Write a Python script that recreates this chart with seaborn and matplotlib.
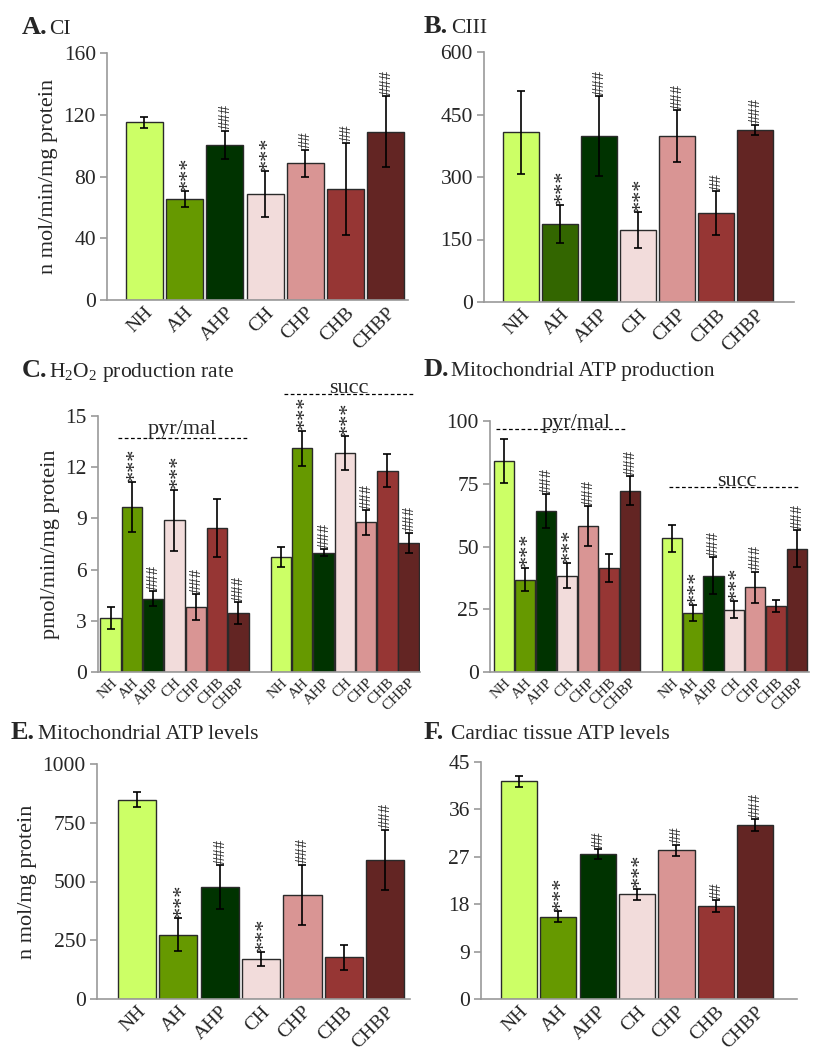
import pandas as pd
import matplotlib.pyplot as plt
import seaborn as sns

# Grupos y colores
groups = ["NH", "AH", "AHP", "CH", "CHP", "CHB", "CHBP"]
colors = ["#CCFF66", "#669900", "#003300", "#F2DCDB", "#D99594", "#963634", "#632523"]
colors_b = ["#CCFF66", "#336600", "#003300", "#F2DCDB", "#D99594", "#963634", "#632523"]

# A. CI
ci_vals = [115, 65.5, 100.4, 68.5, 88.5, 71.8, 109]
ci_err = [3.5, 5, 9.3, 15, 8.8, 30, 23]
ci_marks = ["", "***", "###", "***", "##", "##", "###"]

# B. CIII
ciii_vals = [407, 188, 398, 172, 398, 214, 414]
ciii_err = [100, 46, 96, 43, 63, 52, 12]
ciii_marks = ["", "***", "###", "***", "###", "##", "###"]

# C. H2O2 production rate (pyr/mal, succ)
h2o2_pyr = [3.17, 9.66, 4.3, 8.88, 3.8, 8.43, 3.45]
h2o2_pyr_err = [0.65, 1.45, 0.45, 1.8, 0.75, 1.7, 0.65]
h2o2_succ = [6.75, 13.1, 6.98, 12.81, 8.76, 11.79, 7.57]
h2o2_succ_err = [0.57, 1.04, 0.2, 1.0, 0.72, 0.96, 0.6]
h2o2_marks = ["", "***", "###", "***", "###", "", "###"]

# D. Mitochondrial ATP production (pyr/mal, succ)
atp_pyr = [84.2, 36.8, 64.2, 38.4, 58.1, 41.4, 72.2]
atp_pyr_err = [8.8, 4.7, 6.7, 5.0, 8.0, 5.7, 5.7]
atp_succ = [53.2, 23.5, 38.3, 24.9, 33.8, 26.3, 49.2]
atp_succ_err = [5.3, 3.0, 7.4, 3.3, 6.2, 2.5, 7.3]
atp_marks = ["", "***", "###", "***", "###", "", "###"]

# E. Mitochondrial ATP levels
mito_vals = [848, 274, 476, 170, 443, 178, 592]
mito_err = [31, 70, 94, 28, 128, 53, 128]
mito_marks = ["", "***", "###", "***", "###", "", "###"]

# F. Cardiac tissue ATP levels
card_vals = [41.3, 15.66, 27.5, 19.9, 28.2, 17.7, 33.0]
card_err = [1.0, 1.05, 1.0, 1.05, 1.1, 1.1, 1.1]
card_marks = ["", "***", "##", "***", "##", "##", "###"]

sns.set_style("ticks")
plt.rcParams["font.family"] = ["Liberation Serif", "DejaVu Serif"]
plt.rcParams["mathtext.fontset"] = "custom"
plt.rcParams["mathtext.rm"] = "Liberation Serif"

W, H = 822, 1050
fig = plt.figure(figsize=(W / 100, H / 100), dpi=100)
AXIS_GREY = "#9a9a9a"


def add_ax(left, top, right, bottom):
    # posiciones en pixeles de la imagen
    return fig.add_axes([left / W, 1 - bottom / H, (right - left) / W, (bottom - top) / H])


def draw_bars(ax, sets, width, tick_fs, yticks, xlim):
    """sets: lista de (prefijo, valores, errores, marcas, colores); hueco entre grupos."""
    rows = []
    order = []
    for i, (pref, vals, errs, marks, cols) in enumerate(sets):
        if i > 0:
            order.append("gap")
        for g, v, e, m, c in zip(groups, vals, errs, marks, cols):
            slot = pref + g
            order.append(slot)
            rows.append({"slot": slot, "group": g, "value": v, "err": e, "mark": m, "color": c})
    df = pd.DataFrame(rows)

    sns.barplot(data=df, x="slot", y="value", hue="slot", order=order,
                hue_order=list(df["slot"]), palette=dict(zip(df["slot"], df["color"])),
                dodge=False, width=width, saturation=1, edgecolor="#2a2a2a",
                linewidth=1.0, errorbar=None, legend=False, ax=ax)

    pos = [order.index(s) for s in df["slot"]]
    ax.errorbar(pos, df["value"], yerr=df["err"], fmt="none", ecolor="black",
                elinewidth=1.2, capsize=3, capthick=1.2, zorder=3)

    for p, v, e, m in zip(pos, df["value"], df["err"], df["mark"]):
        if not m:
            continue
        if m.startswith("*"):
            fs, dx = 16, 2.5
        else:
            fs, dx = 12, 0.5
        ax.annotate(m, xy=(p, v + e), xytext=(dx, 1), textcoords="offset points",
                    rotation=90, ha="center", va="bottom", fontsize=fs,
                    annotation_clip=False)

    labels = ["" if s == "gap" else s.split("_")[-1] for s in order]
    ax.set_xticks(range(len(order)))
    ax.set_xticklabels(labels, rotation=45, ha="right", va="top",
                       rotation_mode="anchor", fontsize=tick_fs)
    ax.set_xlim(*xlim)
    ax.set_ylim(yticks[0], yticks[-1])
    ax.set_yticks(yticks)
    ax.set_xlabel("")
    ax.set_ylabel("")
    sns.despine(ax=ax)
    for sp in ["left", "bottom"]:
        ax.spines[sp].set_color(AXIS_GREY)
        ax.spines[sp].set_linewidth(1.2)
    ax.tick_params(axis="y", length=5, width=1.2, color=AXIS_GREY,
                   labelsize=15.5, pad=3)
    ax.tick_params(axis="x", length=0, pad=3)


def panel_title(x, y, letter, text):
    t = fig.text(x / W, 1 - y / H, letter, fontsize=19, fontweight="bold", va="baseline")
    fig.text((x + 27) / W, 1 - y / H, text, fontsize=15.5, va="baseline")
    return t


def sub_label(ax, x0, x1, y_line, x_text, y_text, text):
    ax.plot([x0, x1], [y_line, y_line], ls=(0, (3, 2)), color="black", lw=0.9,
            clip_on=False)
    ax.text(x_text, y_text, text, ha="center", va="baseline", fontsize=16,
            clip_on=False)


# A
axA = add_ax(107, 53, 408, 300)
draw_bars(axA, [("", ci_vals, ci_err, ci_marks, colors)], 0.92, 14,
          [0, 40, 80, 120, 160], (-0.93, 6.55))
axA.set_ylabel("n mol/min/mg protein", fontsize=16, labelpad=4)
panel_title(22, 34, "A.", "CI")

# B
axB = add_ax(484, 52, 794, 302)
draw_bars(axB, [("", ciii_vals, ciii_err, ciii_marks, colors_b)], 0.92, 14,
          [0, 150, 300, 450, 600], (-0.96, 7.0))
panel_title(424, 33, "B.", "CIII")

# C
axC = add_ax(98, 416, 420, 672)
draw_bars(axC, [("p_", h2o2_pyr, h2o2_pyr_err, h2o2_marks, colors),
                ("s_", h2o2_succ, h2o2_succ_err, h2o2_marks, colors)],
          0.96, 11, [0, 3, 6, 9, 12, 15], (-0.59, 14.53))
axC.set_ylabel("pmol/min/mg protein", fontsize=16, labelpad=4)
sub_label(axC, 0.35, 6.45, 13.7, 3.36, 13.95, "pyr/mal")
sub_label(axC, 8.14, 14.24, 16.3, 11.2, 16.35, "succ")
panel_title(22, 377, "C.", "H$_2$O$_2$ production rate")

# D
axD = add_ax(490, 421, 809, 672)
draw_bars(axD, [("p_", atp_pyr, atp_pyr_err, atp_marks, colors),
                ("s_", atp_succ, atp_succ_err, atp_marks, colors)],
          0.96, 11, [0, 25, 50, 75, 100], (-0.69, 14.57))
sub_label(axD, -0.4, 5.82, 96.7, 3.42, 97.2, "pyr/mal")
sub_label(axD, 7.87, 14.1, 73.8, 11.1, 74.3, "succ")
panel_title(424, 376, "D.", "Mitochondrial ATP production")

# E
axE = add_ax(97, 764, 410, 999)
draw_bars(axE, [("", mito_vals, mito_err, mito_marks, colors)], 0.92, 14,
          [0, 250, 500, 750, 1000], (-0.97, 6.6))
axE.set_ylabel("n mol/mg protein", fontsize=16, labelpad=4)
panel_title(11, 739, "E.", "Mitochondrial ATP levels")

# F
axF = add_ax(481, 762, 797, 999)
draw_bars(axF, [("", card_vals, card_err, card_marks, colors)], 0.92, 14,
          [0, 9, 18, 27, 36, 45], (-0.96, 7.06))
panel_title(424, 739, "F.", "Cardiac tissue ATP levels")

fig.savefig("out.png", dpi=100)
